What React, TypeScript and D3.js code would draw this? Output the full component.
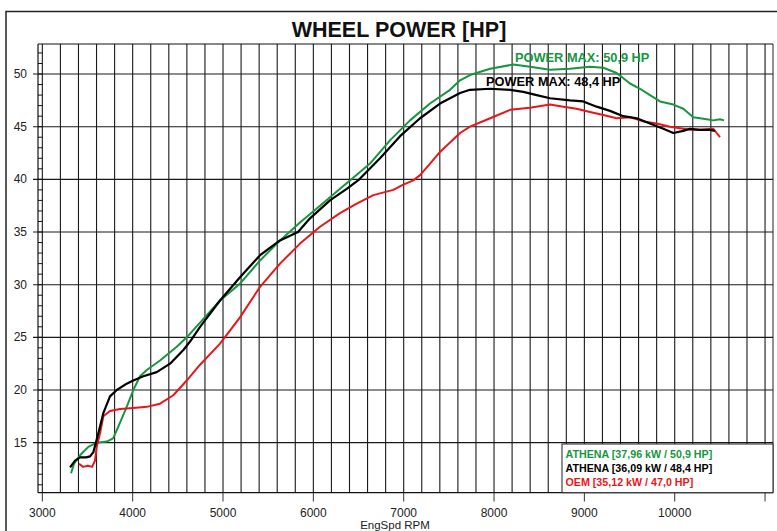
import React from "react";
import * as d3 from "d3";

// dyno traces (rpm, wheel hp)
const greenRpm = [3318, 3351, 3417, 3509, 3602, 3713, 3783, 3824, 3860, 3934, 4007, 4081, 4156, 4303, 4488, 4598, 4746, 4967, 5188, 5410, 5631, 5852, 6074, 6295, 6405, 6627, 6848, 7070, 7291, 7513, 7624, 7734, 7957, 8213, 8398, 8619, 8841, 9062, 9210, 9358, 9505, 9616, 9726, 9837, 9985, 10095, 10206, 10354, 10427, 10501, 10546];
const greenHp = [12.1, 13.0, 13.8, 14.6, 15.0, 15.1, 15.4, 16.2, 16.9, 18.4, 20.0, 21.3, 21.9, 22.8, 24.1, 25.0, 26.4, 28.5, 30.1, 32.3, 34.2, 35.9, 37.5, 39.1, 39.9, 41.5, 43.7, 45.6, 47.2, 48.5, 49.4, 49.9, 50.5, 50.9, 50.7, 50.4, 50.5, 50.7, 50.6, 50.1, 49.1, 48.6, 48.0, 47.4, 47.1, 46.7, 45.9, 45.7, 45.6, 45.7, 45.6];

const blackRpm = [3307, 3362, 3417, 3484, 3528, 3565, 3620, 3675, 3749, 3824, 3934, 4007, 4118, 4266, 4414, 4561, 4635, 4746, 4967, 5188, 5410, 5631, 5830, 5963, 6184, 6369, 6495, 6738, 6960, 7181, 7402, 7624, 7734, 7957, 8178, 8324, 8472, 8620, 8841, 8988, 9136, 9284, 9431, 9579, 9726, 9874, 9985, 10095, 10169, 10280, 10391, 10446];
const blackHp = [12.65, 13.3, 13.6, 13.6, 13.7, 14.1, 15.9, 17.8, 19.4, 20.0, 20.6, 20.9, 21.3, 21.7, 22.5, 23.8, 24.6, 26.0, 28.5, 30.7, 32.8, 34.2, 35.0, 36.3, 38.0, 39.1, 39.9, 42.0, 44.1, 45.8, 47.2, 48.2, 48.5, 48.6, 48.5, 48.3, 48.0, 47.7, 47.5, 47.4, 46.9, 46.5, 46.0, 45.8, 45.3, 44.8, 44.4, 44.6, 44.8, 44.7, 44.7, 44.6];

const redRpm = [3406, 3451, 3506, 3550, 3583, 3602, 3639, 3675, 3749, 3860, 4007, 4156, 4303, 4450, 4598, 4746, 4967, 5188, 5410, 5631, 5852, 6074, 6295, 6480, 6664, 6885, 6996, 7107, 7181, 7292, 7402, 7513, 7624, 7734, 7957, 8178, 8398, 8620, 8767, 8915, 9062, 9210, 9358, 9505, 9653, 9800, 9948, 10169, 10280, 10427, 10464, 10501];
const redHp = [13.0, 12.7, 12.8, 12.7, 13.3, 14.6, 15.9, 17.5, 18.0, 18.2, 18.3, 18.4, 18.7, 19.5, 20.9, 22.4, 24.4, 26.9, 29.8, 32.0, 33.9, 35.5, 36.8, 37.7, 38.5, 39.0, 39.5, 39.9, 40.4, 41.5, 42.6, 43.5, 44.4, 45.0, 45.8, 46.6, 46.8, 47.1, 46.9, 46.7, 46.4, 46.1, 45.8, 45.9, 45.5, 45.3, 45.0, 44.7, 44.7, 44.8, 44.4, 44.0];

const xTicks = [3000, 4000, 5000, 6000, 7000, 8000, 9000, 10000, 11000];
const xTickLabels = ["3000", "4000", "5000", "6000", "7000", "8000", "9000", "10000"];
const yTicks = [15, 20, 25, 30, 35, 40, 45, 50];

const legendLabels = ["ATHENA [37,96 kW / 50,9 HP]", "ATHENA [36,09 kW / 48,4 HP]", "OEM [35,12 kW / 47,0 HP]"];
const peakLabels = ["POWER MAX: 50,9 HP", "POWER MAX: 48,4 HP"];

const GREEN = "#17963f";
const BLACK = "#000000";
const RED = "#e8161b";
const FONT = "'Liberation Sans', Arial, Helvetica, sans-serif";

export default function App() {
  const W = 777, H = 531;
  const left = 38, right = 773, top = 44, bottom = 492.7;

  const x = d3.scaleLinear().domain([2952, 11088]).range([left, right]);
  const y = d3.scaleLinear().domain([10.25, 52.85]).range([bottom, top]);

  const line = d3.line<[number, number]>()
    .x(d => x(d[0]))
    .y(d => y(d[1]));

  const zip = (a: number[], b: number[]) => a.map((v, i) => [v, b[i]] as [number, number]);

  const gridX = d3.range(3000, 11001, 200);
  const minorY = d3.range(11, 53, 1);

  return (
    <svg width={W} height={H} style={{ position: "absolute", left: 0, top: 0, background: "#fff" }} fontFamily={FONT}>
      <rect x={0} y={0} width={W} height={H} fill="#fff" />
      {/* outer frame */}
      <rect x={6} y={11.5} width={900} height={700} fill="none" stroke="#222" strokeWidth={1.5} />

      <text x={399} y={36.5} textAnchor="middle" fontSize={21.5} fontWeight="bold" fill="#111">WHEEL POWER [HP]</text>

      {/* vertical grid */}
      {gridX.map(v => (
        <line key={"gx" + v} x1={x(v)} x2={x(v)} y1={top} y2={bottom} stroke="#1a1a1a" strokeWidth={1.1} />
      ))}
      <line x1={right} x2={right} y1={top} y2={bottom} stroke="#222" strokeWidth={1} />
      {/* horizontal grid */}
      {yTicks.map(v => (
        <line key={"gy" + v} x1={33} x2={right} y1={y(v)} y2={y(v)} stroke="#1a1a1a" strokeWidth={1.1} />
      ))}
      <line x1={left} x2={right} y1={top} y2={top} stroke="#111" strokeWidth={1} />
      <line x1={left} x2={right} y1={bottom} y2={bottom} stroke="#111" strokeWidth={1.2} />
      <line x1={left} x2={left} y1={top} y2={bottom} stroke="#111" strokeWidth={1.2} />

      {/* y minor ticks */}
      {minorY.map(v => (
        <line key={"my" + v} x1={left} x2={x(3000)} y1={y(v)} y2={y(v)} stroke="#111" strokeWidth={1} />
      ))}
      {yTicks.map(v => (
        <text key={"yl" + v} x={27} y={y(v) + 4} textAnchor="end" fontSize={12} fill="#222">{v}</text>
      ))}

      {/* x ticks */}
      {xTicks.map(v => (
        <line key={"xt" + v} x1={x(v)} x2={x(v)} y1={bottom} y2={501.5} stroke="#333" strokeWidth={1} />
      ))}
      {xTickLabels.map(s => (
        <text key={"xl" + s} x={x(+s)} y={517} textAnchor="middle" fontSize={12} fill="#222">{s}</text>
      ))}
      <text x={395} y={528.5} textAnchor="middle" fontSize={11.5} fill="#222">EngSpd RPM</text>

      {/* curves */}
      <path d={line(zip(greenRpm, greenHp)) || ""} fill="none" stroke={GREEN} strokeWidth={2} strokeLinejoin="round" />
      <path d={line(zip(redRpm, redHp)) || ""} fill="none" stroke={RED} strokeWidth={2} strokeLinejoin="round" />
      <path d={line(zip(blackRpm, blackHp)) || ""} fill="none" stroke={BLACK} strokeWidth={2.2} strokeLinejoin="round" />

      {/* peak labels */}
      <text x={515} y={61.5} fontSize={12.8} fontWeight="bold" fill={GREEN}>{peakLabels[0]}</text>
      <text x={486} y={85.5} fontSize={12.8} fontWeight="bold" fill={BLACK}>{peakLabels[1]}</text>

      {/* legend */}
      <rect x={562} y={444} width={right - 562} height={bottom - 444} fill="#fff" stroke="#222" strokeWidth={1} />
      {legendLabels.map((s, i) => (
        <text key={s} x={565.5} y={457.7 + i * 14} fontSize={10.7} fontWeight="bold" fill={[GREEN, BLACK, RED][i]}>{s}</text>
      ))}
    </svg>
  );
}
